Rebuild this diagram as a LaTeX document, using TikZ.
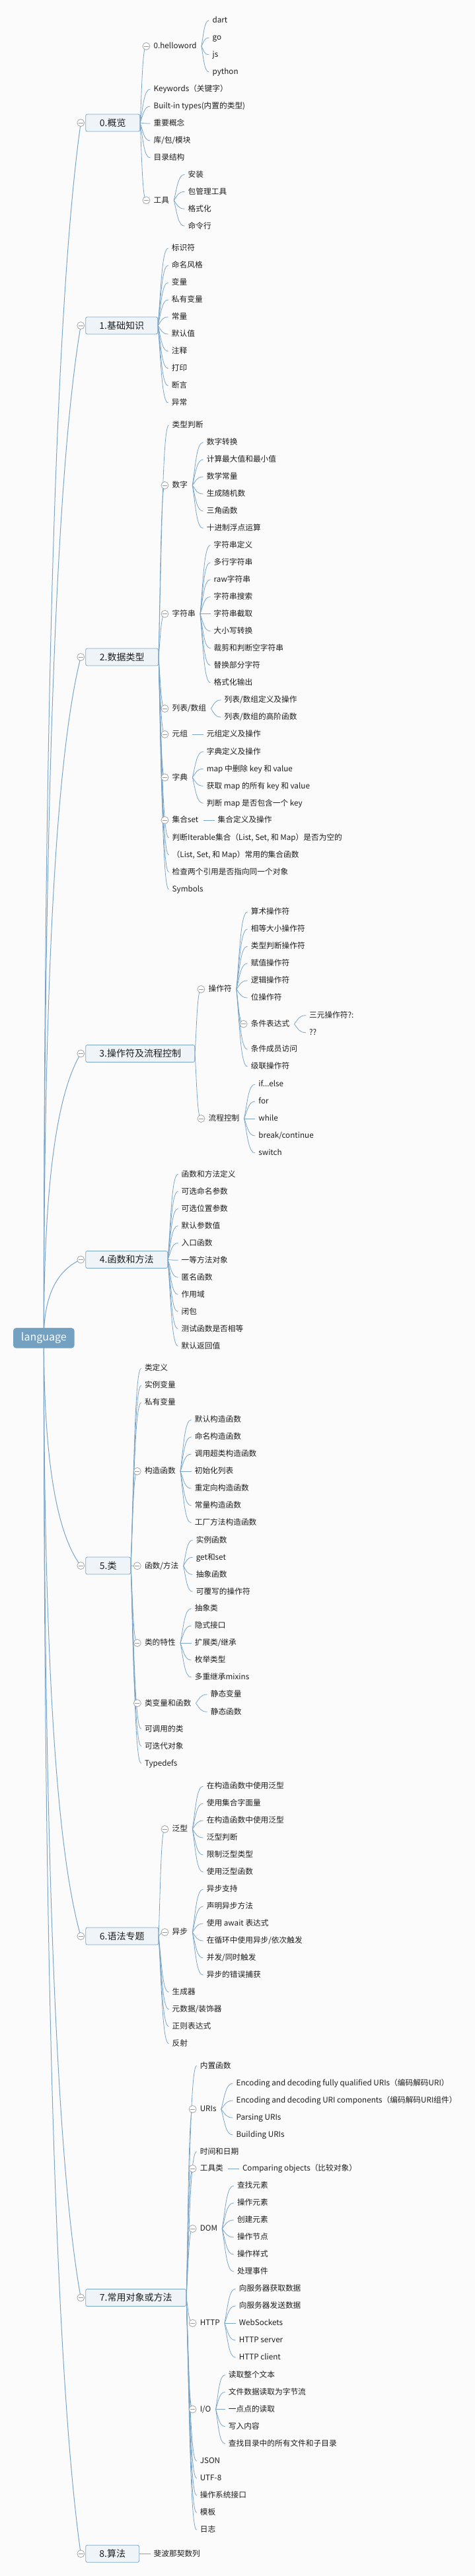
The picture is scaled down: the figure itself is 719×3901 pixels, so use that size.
\documentclass[tikz,border=0pt]{standalone}
\usepackage{fontspec}
\setmainfont{Noto Sans CJK SC}
\usetikzlibrary{calc}
\definecolor{bgc}{HTML}{FBFBFB}
\definecolor{conn}{HTML}{7AA5C9}
\definecolor{boxfill}{HTML}{EFF4F8}
\definecolor{boxline}{HTML}{7CA6C9}
\definecolor{rootfill}{HTML}{74A0C2}
\definecolor{txt}{HTML}{1E1E1E}
\definecolor{togc}{HTML}{9A9A9A}
\pgfdeclarelayer{back}
\pgfdeclarelayer{lines}
\pgfsetlayers{back,lines,main}
\newcommand\fsleaf{\fontsize{11.7pt}{14pt}\selectfont}
\newcommand\fsbox{\fontsize{14pt}{17pt}\selectfont}
\newcommand\fsroot{\fontsize{16pt}{19pt}\selectfont}
\tikzset{
 leaf/.style={anchor=west, inner sep=0pt, font=\fsleaf, text=txt, text height=9.2pt, text depth=1.6pt},
 lvl/.style={anchor=west, draw=boxline, fill=boxfill, rounded corners=2.5pt, line width=0.8pt, minimum height=26pt, inner sep=0pt, font=\fsbox, text=txt},
 rootbox/.style={fill=rootfill, rounded corners=4.5pt, minimum height=30.7pt, minimum width=92.7pt, inner sep=0pt, font=\fsroot, text=white},
 tog/.style={circle, draw=togc, fill=white, line width=0.7pt, minimum size=11pt, inner sep=0pt,
   path picture={\draw[togc, line width=0.7pt] ($(path picture bounding box.center)+(-3.5pt,0pt)$) -- ($(path picture bounding box.center)+(3.5pt,0pt)$);}},
 link/.style={draw=conn, line width=0.8pt},
}
\newcommand\lf[4]{\node[leaf] (#1) at (#2,#3) {#4};}
\newcommand\tg[1]{\node[tog] (#1-t) at ($(#1.west)+(-11,0)$) {};}
\newcommand\tgb[1]{\node[tog] (#1-t) at ($(#1.west)+(-7,0)$) {};}
\newcommand\cn[2]{\draw[link] let \p1=(#1), \p2=(#2) in (\p1) .. controls ({\x1+0.3*(\x2-\x1)},{\y1+0.5*(\y2-\y1)}) and ({\x1+0.4*(\x2-\x1)},\y2) .. (\p2);}
\newcommand\kid[2]{\cn{$(#1.east)+(7,0)$}{$(#2.west)+(-5,0)$}}
\newcommand\kidt[2]{\cn{$(#1.east)+(7,0)$}{#2-t.center}}
\newcommand\bkid[2]{\cn{#1.east}{$(#2.west)+(-5,0)$}}
\newcommand\bkidt[2]{\cn{#1.east}{#2-t.center}}
\newcommand\rk[1]{\draw[link, line width=1pt] let \p1=(rootc), \p2=(#1-t.center) in (\p1) .. controls (\x1,{\y1+0.5*(\y2-\y1)}) and ({\x1+0.3*(\x2-\x1)},{\y2+0.15*(\y1-\y2)}) .. (\p2);}
\begin{document}
\begin{tikzpicture}[x=1pt, y=-1pt]
\useasboundingbox (0,0) rectangle (719,3901);
\begin{pgfonlayer}{back}
\fill[bgc] (0,0) rectangle (719,3901);
\end{pgfonlayer}
% root
\node[rootbox] (root) at (66.35,2026.3) {language};
\coordinate (rootc) at (66.35,2026.3);
% level 1
\node[lvl, minimum width=82] (L0) at (129.3,186) {0.概览};
\node[lvl, minimum width=109] (L1) at (129.3,493) {1.基础知识};
\node[lvl, minimum width=110] (L2) at (129.3,995) {2.数据类型};
\node[lvl, minimum width=165] (L3) at (129.3,1595.5) {3.操作符及流程控制};
\node[lvl, minimum width=124] (L4) at (129.3,1907.5) {4.函数和方法};
\node[lvl, minimum width=68] (L5) at (129.3,2371) {5.类};
\node[lvl, minimum width=110] (L6) at (129.3,2932) {6.语法专题};
\node[lvl, minimum width=152] (L7) at (129.3,3479.5) {7.常用对象或方法};
\node[lvl, minimum width=81] (L8) at (129.3,3867.3) {8.算法};
\foreach \q in {L0,L1,L2,L3,L4,L5,L6,L7,L8} {\tgb{\q}}
% ---- 0
\lf{hw}{232.4}{70}{0.helloword}\tg{hw}
\lf{dart}{321.4}{31}{dart}
\lf{go}{321.4}{57}{go}
\lf{js}{321.4}{83}{js}
\lf{pyt}{321.4}{109}{python}
\lf{kw}{232.4}{135}{Keywords（关键字）}
\lf{bt}{232.4}{161}{Built-in types(内置的类型)}
\lf{zy}{232.4}{187}{重要概念}
\lf{ku}{232.4}{213}{库/包/模块}
\lf{ml}{232.4}{239}{目录结构}
\lf{gj}{232.4}{303.3}{工具}\tg{gj}
\lf{az}{284.5}{264.3}{安装}
\lf{bgl}{284.5}{290.3}{包管理工具}
\lf{gsh}{284.5}{316.3}{格式化}
\lf{mlh}{284.5}{342.3}{命令行}
% ---- 1
\lf{a1}{259.7}{376}{标识符}
\lf{a2}{259.7}{402}{命名风格}
\lf{a3}{259.7}{428}{变量}
\lf{a4}{259.7}{454}{私有变量}
\lf{a5}{259.7}{480}{常量}
\lf{a6}{259.7}{506}{默认值}
\lf{a7}{259.7}{532}{注释}
\lf{a8}{259.7}{558}{打印}
\lf{a9}{259.7}{584}{断言}
\lf{a10}{259.7}{610}{异常}
% ---- 2
\lf{b1}{260.5}{644}{类型判断}
\lf{b2}{260.5}{735}{数字}\tg{b2}
\lf{b2a}{312.6}{670}{数字转换}
\lf{b2b}{312.6}{696}{计算最大值和最小值}
\lf{b2c}{312.6}{722}{数学常量}
\lf{b2d}{312.6}{748}{生成随机数}
\lf{b2e}{312.6}{774}{三角函数}
\lf{b2f}{312.6}{800}{十进制浮点运算}
\lf{b3}{260.5}{929.7}{字符串}\tg{b3}
\lf{b3a}{323.5}{825.7}{字符串定义}
\lf{b3b}{323.5}{851.7}{多行字符串}
\lf{b3c}{323.5}{877.7}{raw字符串}
\lf{b3d}{323.5}{903.7}{字符串搜索}
\lf{b3e}{323.5}{929.7}{字符串截取}
\lf{b3f}{323.5}{955.7}{大小写转换}
\lf{b3g}{323.5}{981.7}{裁剪和判断空字符串}
\lf{b3h}{323.5}{1007.7}{替换部分字符}
\lf{b3i}{323.5}{1033.7}{格式化输出}
\lf{b4}{260.5}{1073}{列表/数组}\tg{b4}
\lf{b4a}{339.5}{1060}{列表/数组定义及操作}
\lf{b4b}{339.5}{1086}{列表/数组的高阶函数}
\lf{b5}{260.5}{1112}{元组}\tg{b5}
\lf{b5a}{312.6}{1112}{元组定义及操作}
\lf{b6}{260.5}{1177.3}{字典}\tg{b6}
\lf{b6a}{312.6}{1138.3}{字典定义及操作}
\lf{b6b}{312.6}{1164.3}{map 中删除 key 和 value}
\lf{b6c}{312.6}{1190.3}{获取 map 的所有 key 和 value}
\lf{b6d}{312.6}{1216.3}{判断 map 是否包含一个 key}
\lf{b7}{260.5}{1242}{集合set}\tg{b7}
\lf{b7a}{329.5}{1242}{集合定义及操作}
\lf{b8}{260.5}{1268.7}{判断Iterable集合（List, Set, 和 Map）是否为空的}
\lf{b9}{260.5}{1294.7}{（List, Set, 和 Map）常用的集合函数}
\lf{b10}{260.5}{1320.7}{检查两个引用是否指向同一个对象}
\lf{b11}{260.5}{1346.7}{Symbols}
% ---- 3
\lf{c1}{315.4}{1498}{操作符}\tg{c1}
\lf{c1a}{379.6}{1381}{算术操作符}
\lf{c1b}{379.6}{1407}{相等大小操作符}
\lf{c1c}{379.6}{1433}{类型判断操作符}
\lf{c1d}{379.6}{1459}{赋值操作符}
\lf{c1e}{379.6}{1485}{逻辑操作符}
\lf{c1f}{379.6}{1511}{位操作符}
\lf{c1g}{379.6}{1550.7}{条件表达式}\tg{c1g}
\lf{c1ga}{467.9}{1537.7}{三元操作符?:}
\lf{c1gb}{467.9}{1563.7}{??}
\lf{c1h}{379.6}{1589}{条件成员访问}
\lf{c1i}{379.6}{1615}{级联操作符}
\lf{c2}{315.4}{1694}{流程控制}\tg{c2}
\lf{c2a}{391.2}{1642}{if...else}
\lf{c2b}{391.2}{1668}{for}
\lf{c2c}{391.2}{1694}{while}
\lf{c2d}{391.2}{1720}{break/continue}
\lf{c2e}{391.2}{1746}{switch}
% ---- 4
\lf{d1}{274.5}{1778.3}{函数和方法定义}
\lf{d2}{274.5}{1804.3}{可选命名参数}
\lf{d3}{274.5}{1830.3}{可选位置参数}
\lf{d4}{274.5}{1856.3}{默认参数值}
\lf{d5}{274.5}{1882.3}{入口函数}
\lf{d6}{274.5}{1908.3}{一等方法对象}
\lf{d7}{274.5}{1934.3}{匿名函数}
\lf{d8}{274.5}{1960.3}{作用域}
\lf{d9}{274.5}{1986.3}{闭包}
\lf{d10}{274.5}{2012.3}{测试函数是否相等}
\lf{d11}{274.5}{2038.3}{默认返回值}
% ---- 5
\lf{e1}{218.8}{2072}{类定义}
\lf{e2}{218.8}{2098}{实例变量}
\lf{e3}{218.8}{2124}{私有变量}
\lf{e4}{218.8}{2228}{构造函数}\tg{e4}
\lf{e4a}{294.6}{2150}{默认构造函数}
\lf{e4b}{294.6}{2176}{命名构造函数}
\lf{e4c}{294.6}{2202}{调用超类构造函数}
\lf{e4d}{294.6}{2228}{初始化列表}
\lf{e4e}{294.6}{2254}{重定向构造函数}
\lf{e4f}{294.6}{2280}{常量构造函数}
\lf{e4g}{294.6}{2306}{工厂方法构造函数}
\lf{e5}{218.8}{2371.3}{函数/方法}\tg{e5}
\lf{e5a}{296.6}{2332.3}{实例函数}
\lf{e5b}{296.6}{2358.3}{get和set}
\lf{e5c}{296.6}{2384.3}{抽象函数}
\lf{e5d}{296.6}{2410.3}{可覆写的操作符}
\lf{e6}{218.8}{2488}{类的特性}\tg{e6}
\lf{e6a}{294.6}{2436}{抽象类}
\lf{e6b}{294.6}{2462}{隐式接口}
\lf{e6c}{294.6}{2488}{扩展类/继承}
\lf{e6d}{294.6}{2514}{枚举类型}
\lf{e6e}{294.6}{2540}{多重继承mixins}
\lf{e7}{218.8}{2579.2}{类变量和函数}\tg{e7}
\lf{e7a}{318.6}{2566}{静态变量}
\lf{e7b}{318.6}{2592.3}{静态函数}
\lf{e8}{218.8}{2618.3}{可调用的类}
\lf{e9}{218.8}{2644.3}{可迭代对象}
\lf{e10}{218.8}{2670.3}{Typedefs}
% ---- 6
\lf{f1}{260.5}{2770}{泛型}\tg{f1}
\lf{f1a}{312.6}{2705}{在构造函数中使用泛型}
\lf{f1b}{312.6}{2731}{使用集合字面量}
\lf{f1c}{312.6}{2757}{在构造函数中使用泛型}
\lf{f1d}{312.6}{2783}{泛型判断}
\lf{f1e}{312.6}{2809}{限制泛型类型}
\lf{f1f}{312.6}{2835}{使用泛型函数}
\lf{f2}{260.5}{2926}{异步}\tg{f2}
\lf{f2a}{312.6}{2861}{异步支持}
\lf{f2b}{312.6}{2887}{声明异步方法}
\lf{f2c}{312.6}{2913}{使用 await 表达式}
\lf{f2d}{312.6}{2939}{在循环中使用异步/依次触发}
\lf{f2e}{312.6}{2965}{并发/同时触发}
\lf{f2f}{312.6}{2991}{异步的错误捕获}
\lf{f3}{260.5}{3016.7}{生成器}
\lf{f4}{260.5}{3042.7}{元数据/装饰器}
\lf{f5}{260.5}{3068.7}{正则表达式}
\lf{f6}{260.5}{3094.7}{反射}
% ---- 7
\lf{g1}{302.6}{3128.3}{内置函数}
\lf{g2}{302.6}{3194}{URIs}\tg{g2}
\lf{g2a}{357.5}{3155}{Encoding and decoding fully qualified URIs（编码解码URI）}
\lf{g2b}{357.5}{3181}{Encoding and decoding URI components（编码解码URI组件）}
\lf{g2c}{357.5}{3207}{Parsing URIs}
\lf{g2d}{357.5}{3233}{Building URIs}
\lf{g3}{302.6}{3258.3}{时间和日期}
\lf{g4}{302.6}{3284}{工具类}\tg{g4}
\lf{g4a}{366.8}{3284}{Comparing objects（比较对象）}
\lf{g5}{302.6}{3375}{DOM}\tg{g5}
\lf{g5a}{358.8}{3310}{查找元素}
\lf{g5b}{358.8}{3336}{操作元素}
\lf{g5c}{358.8}{3362}{创建元素}
\lf{g5d}{358.8}{3388}{操作节点}
\lf{g5e}{358.8}{3414}{操作样式}
\lf{g5f}{358.8}{3440}{处理事件}
\lf{g6}{302.6}{3518}{HTTP}\tg{g6}
\lf{g6a}{361.6}{3466}{向服务器获取数据}
\lf{g6b}{361.6}{3492}{向服务器发送数据}
\lf{g6c}{361.6}{3518}{WebSockets}
\lf{g6d}{361.6}{3544}{HTTP server}
\lf{g6e}{361.6}{3570}{HTTP client}
\lf{g7}{302.6}{3648.5}{I/O}\tg{g7}
\lf{g7a}{345.7}{3596.5}{读取整个文本}
\lf{g7b}{345.7}{3622.5}{文件数据读取为字节流}
\lf{g7c}{345.7}{3648.5}{一点点的读取}
\lf{g7d}{345.7}{3674.5}{写入内容}
\lf{g7e}{345.7}{3700.5}{查找目录中的所有文件和子目录}
\lf{g8}{302.6}{3727}{JSON}
\lf{g9}{302.6}{3753}{UTF-8}
\lf{g10}{302.6}{3779}{操作系统接口}
\lf{g11}{302.6}{3805}{模板}
\lf{g12}{302.6}{3831}{日志}
% ---- 8
\lf{h1}{232.5}{3867.3}{斐波那契数列}
% ================= connectors
\begin{pgfonlayer}{lines}
\foreach \q in {L0,L1,L2,L3,L4,L5,L6,L7,L8} {\rk{\q}}
% 0
\bkidt{L0}{hw}\bkidt{L0}{gj}
\foreach \k in {kw,bt,zy,ku,ml} {\bkid{L0}{\k}}
\foreach \k in {dart,go,js,pyt} {\kid{hw}{\k}}
\foreach \k in {az,bgl,gsh,mlh} {\kid{gj}{\k}}
% 1
\foreach \k in {a1,a2,a3,a4,a5,a6,a7,a8,a9,a10} {\bkid{L1}{\k}}
% 2
\foreach \k in {b1,b8,b9,b10,b11} {\bkid{L2}{\k}}
\foreach \k in {b2,b3,b4,b5,b6,b7} {\bkidt{L2}{\k}}
\foreach \k in {b2a,b2b,b2c,b2d,b2e,b2f} {\kid{b2}{\k}}
\foreach \k in {b3a,b3b,b3c,b3d,b3e,b3f,b3g,b3h,b3i} {\kid{b3}{\k}}
\foreach \k in {b4a,b4b} {\kid{b4}{\k}}
\kid{b5}{b5a}
\foreach \k in {b6a,b6b,b6c,b6d} {\kid{b6}{\k}}
\kid{b7}{b7a}
% 3
\bkidt{L3}{c1}\bkidt{L3}{c2}
\foreach \k in {c1a,c1b,c1c,c1d,c1e,c1f,c1h,c1i} {\kid{c1}{\k}}
\kidt{c1}{c1g}
\foreach \k in {c1ga,c1gb} {\kid{c1g}{\k}}
\foreach \k in {c2a,c2b,c2c,c2d,c2e} {\kid{c2}{\k}}
% 4
\foreach \k in {d1,d2,d3,d4,d5,d6,d7,d8,d9,d10,d11} {\bkid{L4}{\k}}
% 5
\foreach \k in {e1,e2,e3,e8,e9,e10} {\bkid{L5}{\k}}
\foreach \k in {e4,e5,e6,e7} {\bkidt{L5}{\k}}
\foreach \k in {e4a,e4b,e4c,e4d,e4e,e4f,e4g} {\kid{e4}{\k}}
\foreach \k in {e5a,e5b,e5c,e5d} {\kid{e5}{\k}}
\foreach \k in {e6a,e6b,e6c,e6d,e6e} {\kid{e6}{\k}}
\foreach \k in {e7a,e7b} {\kid{e7}{\k}}
% 6
\foreach \k in {f1,f2} {\bkidt{L6}{\k}}
\foreach \k in {f3,f4,f5,f6} {\bkid{L6}{\k}}
\foreach \k in {f1a,f1b,f1c,f1d,f1e,f1f} {\kid{f1}{\k}}
\foreach \k in {f2a,f2b,f2c,f2d,f2e,f2f} {\kid{f2}{\k}}
% 7
\foreach \k in {g1,g3,g8,g9,g10,g11,g12} {\bkid{L7}{\k}}
\foreach \k in {g2,g4,g5,g6,g7} {\bkidt{L7}{\k}}
\foreach \k in {g2a,g2b,g2c,g2d} {\kid{g2}{\k}}
\kid{g4}{g4a}
\foreach \k in {g5a,g5b,g5c,g5d,g5e,g5f} {\kid{g5}{\k}}
\foreach \k in {g6a,g6b,g6c,g6d,g6e} {\kid{g6}{\k}}
\foreach \k in {g7a,g7b,g7c,g7d,g7e} {\kid{g7}{\k}}
% 8
\bkid{L8}{h1}
\end{pgfonlayer}
\end{tikzpicture}
\end{document}
